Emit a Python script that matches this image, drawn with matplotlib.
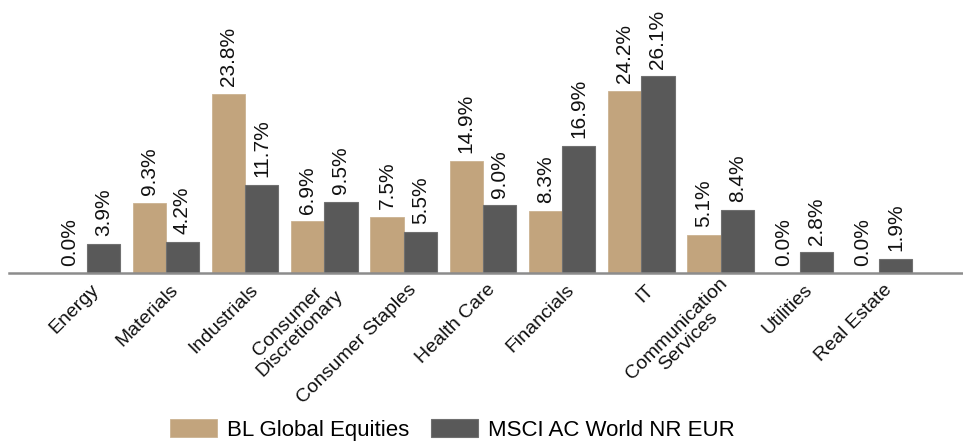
import matplotlib
matplotlib.use('Agg')
import matplotlib.pyplot as plt
import numpy as np
from matplotlib.transforms import ScaledTranslation

plt.rcParams['font.family'] = ['Liberation Sans', 'DejaVu Sans']

# sector weights (%)
sectors = ['Energy', 'Materials', 'Industrials', 'Consumer\nDiscretionary', 'Consumer Staples',
           'Health Care', 'Financials', 'IT', 'Communication\nServices', 'Utilities', 'Real Estate']
fund = [0.0, 9.3, 23.8, 6.9, 7.5, 14.9, 8.3, 24.2, 5.1, 0.0, 0.0]
benchmark = [3.9, 4.2, 11.7, 9.5, 5.5, 9.0, 16.9, 26.1, 8.4, 2.8, 1.9]
series_names = ['BL Global Equities', 'MSCI AC World NR EUR']

tan = '#C2A47D'
grey = '#595959'

fig = plt.figure(figsize=(9.63, 4.45), dpi=100)
ax = fig.add_axes([0.0093, 0.3858, 0.9907, 0.6142])

x = np.arange(len(sectors))
w = 0.42
b1 = ax.bar(x - w / 2, fund, w, color=tan, edgecolor='#CBB291', linewidth=0.6, label=series_names[0])
b2 = ax.bar(x + w / 2, benchmark, w, color=grey, edgecolor='#707070', linewidth=0.8, label=series_names[1])

# value labels above bars, rotated
for bars, vals in [(b1, fund), (b2, benchmark)]:
    for rect, v in zip(bars, vals):
        ax.annotate(f'{v:.1f}%', (rect.get_x() + rect.get_width() / 2, v),
                    xytext=(0, 5.5), textcoords='offset points',
                    rotation=90, ha='center', va='bottom', fontsize=15, color='#111111')

ax.set_xlim(-0.98, 11.06)
ax.set_ylim(0, 36.2)
ax.set_yticks([])
for s in ['top', 'right', 'left']:
    ax.spines[s].set_visible(False)
ax.spines['bottom'].set_color('#8C8C8C')
ax.spines['bottom'].set_linewidth(1.8)

ax.set_xticks(x)
ax.set_xticklabels(sectors, rotation=45, ha='right', va='center', rotation_mode='anchor',
                   fontsize=14, color='#111111', multialignment='center', linespacing=1.0)
ax.tick_params(axis='x', length=0, pad=10)
for lab in ax.get_xticklabels():
    lab.set_transform(lab.get_transform() + ScaledTranslation(0.10, 0, fig.dpi_scale_trans))

fig.legend(handles=[b1, b2], labels=series_names, loc='center', bbox_to_anchor=(0.47, 0.034),
           ncol=2, frameon=False, fontsize=16, handlelength=2.1, handleheight=0.86,
           handletextpad=0.45, columnspacing=1.0, borderaxespad=0, borderpad=0)

fig.savefig('out.png', dpi=100)
